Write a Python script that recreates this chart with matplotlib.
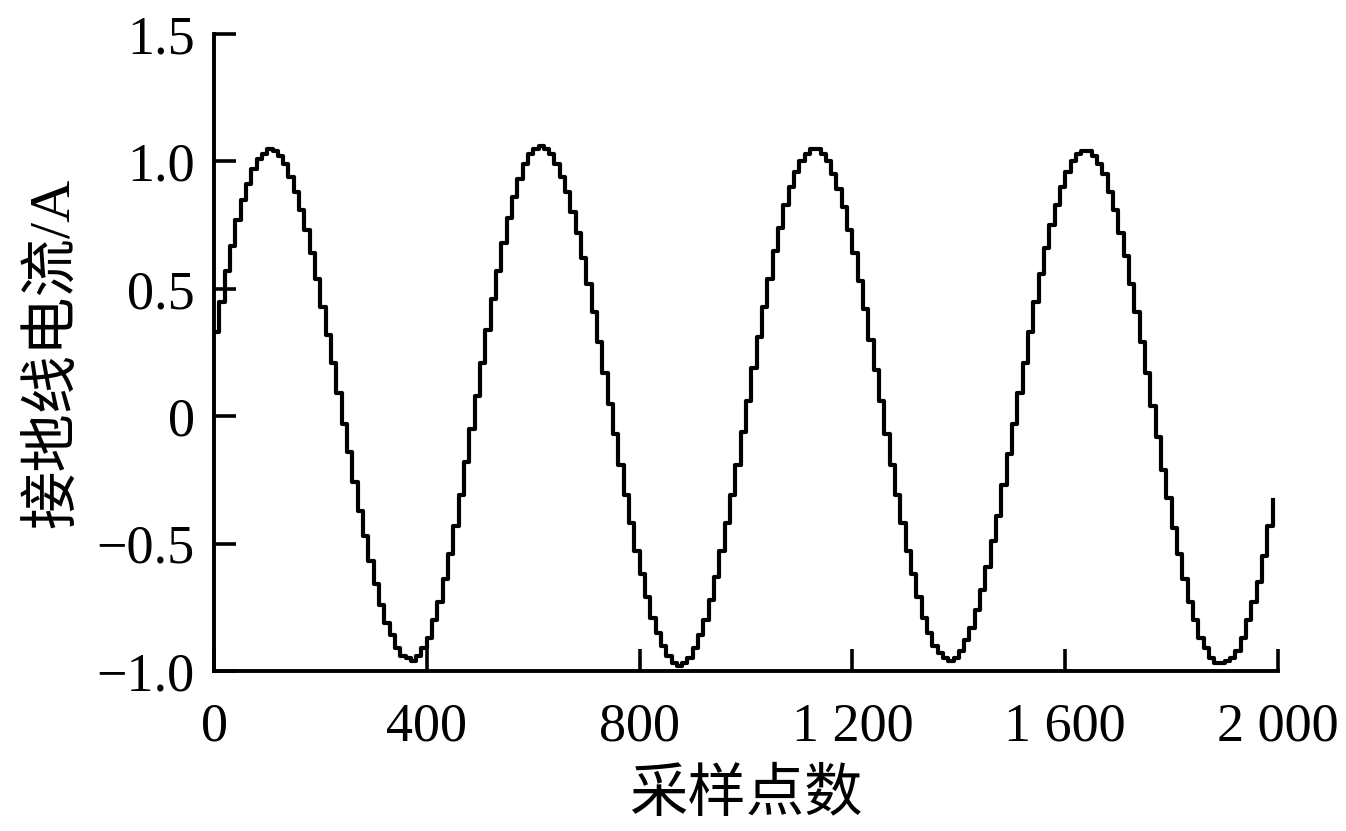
import numpy as np
import matplotlib
matplotlib.use('Agg')
import matplotlib.pyplot as plt

plt.rcParams['font.family'] = ['Liberation Serif', 'Noto Sans CJK SC']
plt.rcParams['axes.unicode_minus'] = True

# sample index (every 10 samples) and grounding-wire current
sample_step = 10
current = [
    0.33, 0.45, 0.57, 0.67, 0.77, 0.85, 0.91, 0.97, 1.01, 1.03, 1.05,
    1.04, 1.02, 0.99, 0.94, 0.88, 0.81, 0.73, 0.64, 0.54, 0.43,
    0.32, 0.21, 0.09, -0.03, -0.14, -0.26, -0.37, -0.47, -0.57, -0.66,
    -0.74, -0.81, -0.86, -0.91, -0.94, -0.95,
    -0.96, -0.94, -0.91, -0.87, -0.80, -0.73, -0.64, -0.54, -0.43, -0.31,
    -0.18, -0.05, 0.08, 0.21, 0.34, 0.46, 0.57, 0.68, 0.78, 0.86,
    0.93, 0.99, 1.03, 1.05,
    1.06, 1.05, 1.03, 0.99, 0.94, 0.88, 0.80, 0.72, 0.62, 0.52,
    0.41, 0.29, 0.17, 0.05, -0.07, -0.19, -0.31, -0.42, -0.53, -0.62,
    -0.71, -0.79, -0.85, -0.90, -0.94, -0.97, -0.98,
    -0.97, -0.95, -0.91, -0.86, -0.80, -0.72, -0.63, -0.53, -0.42, -0.31,
    -0.19, -0.06, 0.06, 0.19, 0.31, 0.43, 0.54, 0.65, 0.74, 0.83,
    0.90, 0.96, 1.00, 1.03, 1.05,
    1.05, 1.03, 1.00, 0.95, 0.89, 0.82, 0.73, 0.64, 0.53, 0.42,
    0.30, 0.18, 0.06, -0.07, -0.19, -0.31, -0.42, -0.53, -0.62, -0.71,
    -0.79, -0.85, -0.90, -0.93, -0.95,
    -0.96, -0.95, -0.92, -0.88, -0.83, -0.76, -0.68, -0.59, -0.49, -0.39,
    -0.27, -0.15, -0.03, 0.09, 0.21, 0.33, 0.45, 0.56, 0.66, 0.75,
    0.83, 0.90, 0.96, 1.00, 1.03, 1.04,
    1.04, 1.02, 0.99, 0.95, 0.88, 0.81, 0.72, 0.63, 0.52, 0.41,
    0.29, 0.17, 0.04, -0.08, -0.21, -0.32, -0.44, -0.54, -0.64, -0.73,
    -0.80, -0.87, -0.91, -0.95, -0.97,
    -0.97, -0.96, -0.95, -0.92, -0.87, -0.80, -0.73, -0.65, -0.55, -0.43, -0.33,
]
samples = np.arange(len(current)) * sample_step

x_ticks = [0, 400, 800, 1200, 1600, 2000]
x_tick_labels = ['0', '400', '800', '1 200', '1 600', '2 000']
y_ticks = [-1.0, -0.5, 0, 0.5, 1.0, 1.5]
y_tick_labels = ['\u22121.0', '\u22120.5', '0', '0.5', '1.0', '1.5']

fig = plt.figure(figsize=(13.46, 8.31), dpi=100)
ax = fig.add_axes([0.159, 0.1925, 0.7905, 0.7665])

ax.plot(samples, current, drawstyle='steps-post', color='black', linewidth=3.0)

ax.set_xlim(0, 2000)
ax.set_ylim(-1.0, 1.5)
ax.set_xticks(x_ticks, x_tick_labels)
ax.set_yticks(y_ticks, y_tick_labels)

for side in ['top', 'right']:
    ax.spines[side].set_visible(False)
for side in ['left', 'bottom']:
    ax.spines[side].set_linewidth(2.8)

ax.tick_params(direction='in', length=16, width=2.6, labelsize=39)
ax.tick_params(axis='x', pad=22)
ax.tick_params(axis='y', pad=14)

ax.set_xlabel('采样点数', fontsize=42, labelpad=12)
ax.set_ylabel('接地线电流/A', fontsize=42, labelpad=12)

fig.savefig('out.png', dpi=100)
